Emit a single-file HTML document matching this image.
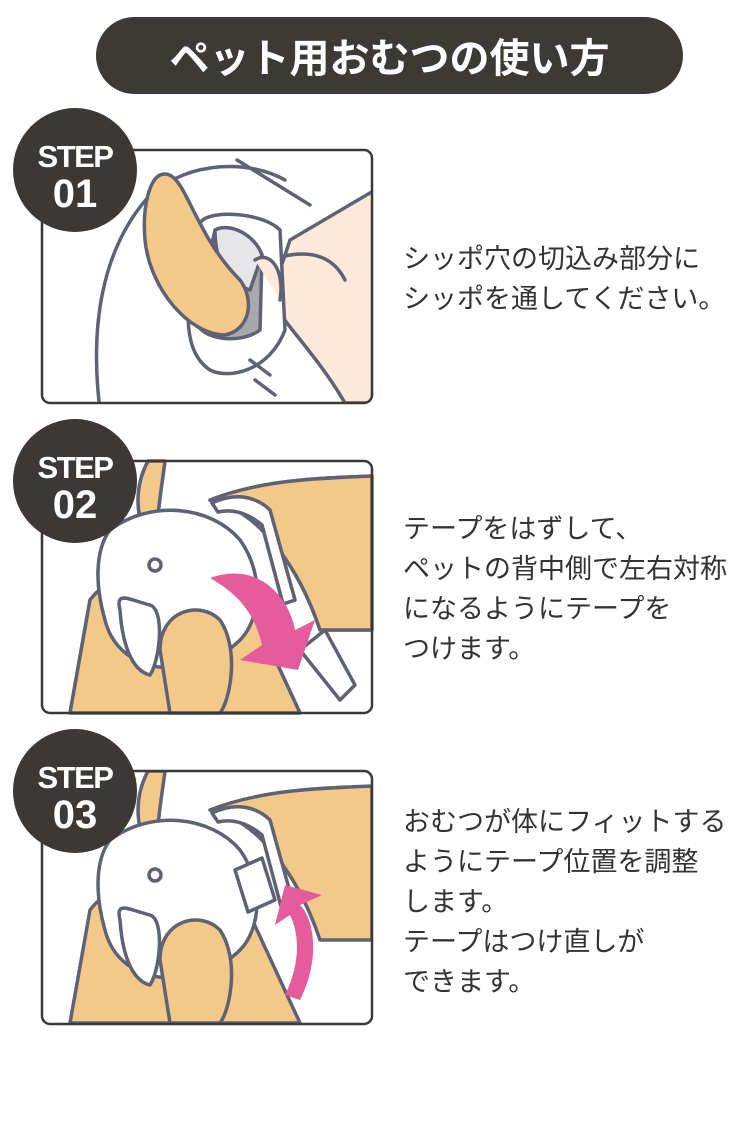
<!DOCTYPE html>
<html><head><meta charset="utf-8"><style>
html,body{margin:0;padding:0;background:#fff;}
body{width:750px;height:1124px;position:relative;overflow:hidden;font-family:"Liberation Sans","Noto Sans CJK JP",sans-serif;}
.t{position:absolute;left:403px;font-size:27px;line-height:40px;color:#333;font-family:"Noto Sans CJK JP",sans-serif;}
.hd{position:absolute;left:96px;top:17px;width:587px;height:77px;border-radius:39px;background:#3d3a36;color:#fff;font-size:40px;font-weight:bold;text-align:center;line-height:77px;font-family:"Noto Sans CJK JP",sans-serif;}
svg{position:absolute;left:0;top:0;}
</style></head><body>
<div class="hd">ペット用おむつの使い方</div>
<svg width="750" height="1124" viewBox="0 0 750 1124">
<defs>
<clipPath id="c1"><rect x="42" y="150" width="330" height="253" rx="8"/></clipPath>
<clipPath id="c2"><rect x="42" y="461" width="330" height="252" rx="8"/></clipPath>
<clipPath id="c3"><rect x="42" y="771" width="330" height="253" rx="8"/></clipPath>
</defs>
<g fill="none" stroke="#5f6274" stroke-width="3.5" stroke-linejoin="round" stroke-linecap="round">
<g clip-path="url(#c1)">
<path d="M100 410 C90 330 100 250 150 195 C190 160 250 160 285 180" />
<path d="M237 160 L310 205"/>
<path d="M290 240 L375 190 L375 403 L345 403 C320 360 290 330 270 300 Z" fill="#fde9da"/>
<path d="M270 260 C300 250 330 250 345 280"/>
<path d="M200 225 C200 210 260 210 280 230 L285 330 C270 370 230 380 210 370 C180 350 185 300 200 225Z" fill="#fff"/>
<path d="M215 230 C230 222 255 235 262 255 L260 330 C240 345 200 340 195 320Z" fill="#a9a9ac"/>
<path d="M215 230 C230 222 255 235 262 255 L250 290 C235 285 215 270 215 230Z" fill="#e6e6e8"/>
<path d="M160 175 C185 165 190 230 240 280 C255 300 250 330 225 335 C190 335 150 290 145 240 C142 205 150 180 160 175Z" fill="#f3c98a"/>
<path d="M255 260 C270 250 285 270 280 300" fill="#fde9da"/>
<path d="M250 360 L270 375 M255 380 L275 395"/>
</g>
<rect x="42" y="150" width="330" height="253" rx="8" stroke="#3b3835" stroke-width="2.5"/>
<g id="dog">
<path d="M148 461 L165 461 C160 500 155 520 160 545 L150 550 C140 525 130 495 148 461Z" fill="#f3c98a"/>
<path d="M210 500 C260 480 320 478 372 476 L372 630 L320 630 C300 570 260 510 210 500Z" fill="#f3c98a"/>
<path d="M70 713 L90 600 C120 560 200 555 250 605 L300 713Z" fill="#f3c98a"/>
<path d="M110 530 C150 500 210 505 240 540 C265 575 260 620 240 640 C200 680 120 680 105 620 C95 585 95 550 110 530Z" fill="#fff"/>
<path d="M160 650 C160 610 200 600 220 620 C240 650 230 700 220 713 L170 713Z" fill="#f3c98a"/>
<path d="M120 610 C115 590 130 600 150 605 C165 610 160 660 150 675 C130 670 122 640 120 610Z" fill="#fff"/>
<path d="M212 503 C240 490 260 500 270 510 L295 600 L283 604 L262 525 C250 515 235 508 218 512Z" fill="#fff"/>
<circle cx="155" cy="565" r="6" fill="#fff"/>
</g>
<g clip-path="url(#c2)"><use href="#dog" x="0" y="0"/></g>
<rect x="42" y="461" width="330" height="252" rx="8" stroke="#3b3835" stroke-width="2.5"/>
<path d="M300 650 L325 630 L355 685 L340 700 Z" fill="#fff"/>
<path d="M210 578 C260 560 290 600 295 630 L315 620 L298 670 L240 660 L262 645 C255 615 240 595 210 578Z" fill="#e45c9b" stroke="none"/>
<g clip-path="url(#c3)"><use href="#dog" x="0" y="310"/></g>
<rect x="42" y="771" width="330" height="253" rx="8" stroke="#3b3835" stroke-width="2.5"/>
<path d="M235 870 L262 858 L275 900 L248 912Z" fill="#fff"/>
<path d="M300 1000 C320 960 315 920 300 905 L322 895 L285 885 L275 925 L290 915 C300 935 300 965 285 995Z" fill="#e45c9b" stroke="none"/>
</g>
<g fill="#3b3835"><circle cx="75" cy="170" r="62"/><circle cx="75" cy="481" r="62"/><circle cx="75" cy="791" r="62"/></g>
<g fill="#fff" font-family="Liberation Sans, sans-serif" font-weight="bold" text-anchor="middle">
<text x="75" y="167" font-size="31" letter-spacing="-1.5">STEP</text><text x="75" y="207" font-size="40">01</text>
<text x="75" y="478" font-size="31" letter-spacing="-1.5">STEP</text><text x="75" y="518" font-size="40">02</text>
<text x="75" y="788" font-size="31" letter-spacing="-1.5">STEP</text><text x="75" y="828" font-size="40">03</text>
</g>
</svg>
<div class="t" style="top:237px">シッポ穴の切込み部分に<br>シッポを通してください。</div>
<div class="t" style="top:507px">テープをはずして、<br>ペットの背中側で左右対称<br>になるようにテープを<br>つけます。</div>
<div class="t" style="top:800px">おむつが体にフィットする<br>ようにテープ位置を調整<br>します。<br>テープはつけ直しが<br>できます。</div>
</body></html>
